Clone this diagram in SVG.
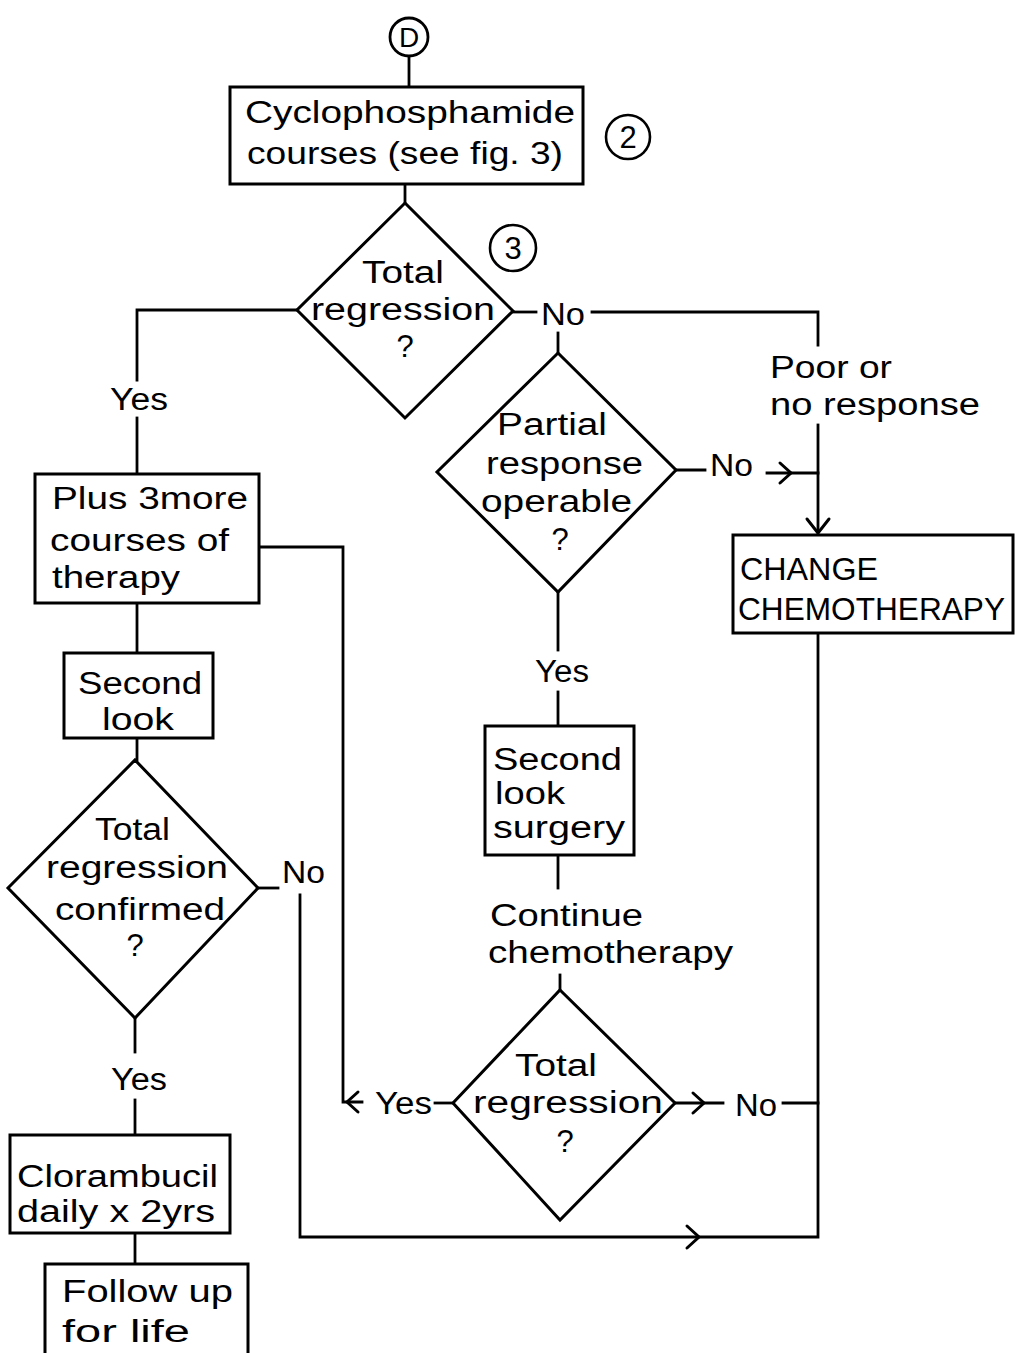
<svg xmlns="http://www.w3.org/2000/svg" width="1021" height="1353" viewBox="0 0 1021 1353">
<style>
.box{fill:#fff;stroke:#000;stroke-width:3}
.ln{fill:none;stroke:#000;stroke-width:2.8;stroke-linecap:square}
.ar{fill:none;stroke:#000;stroke-width:3;stroke-linecap:round;stroke-linejoin:miter}
text{font-family:"Liberation Sans",Arial,sans-serif;font-size:31px;fill:#000}
.m{text-anchor:middle}
</style>
<rect width="1021" height="1353" fill="#fff"/>
<g id="connectors">
<path class="ln" d="M409 56V87"/>
<path class="ln" d="M405 184V203"/>
<path class="ln" d="M513 312H536"/>
<path class="ln" d="M592 312H818V345"/>
<path class="ln" d="M818 425V532"/>
<path class="ar" d="M807 519L818 533L829 519"/>
<path class="ln" d="M558 333V353"/>
<path class="ln" d="M297 310H137V380"/>
<path class="ln" d="M137 418V474"/>
<path class="ln" d="M676 470H705"/>
<path class="ln" d="M767 473H818"/>
<path class="ar" d="M780 463L791 473L780 483"/>
<path class="ln" d="M558 592V650"/>
<path class="ln" d="M558 692V726"/>
<path class="ln" d="M558 855V888"/>
<path class="ln" d="M560 975V990"/>
<path class="ln" d="M137 603V653"/>
<path class="ln" d="M137 738V760"/>
<path class="ln" d="M259 547H343V1102H362"/>
<path class="ar" d="M358 1092L347 1102L358 1112"/>
<path class="ln" d="M435 1103H453"/>
<path class="ln" d="M675 1103H723"/>
<path class="ar" d="M693 1093L704 1103L693 1113"/>
<path class="ln" d="M783 1103H818"/>
<path class="ln" d="M818 633V1237H300V895"/>
<path class="ar" d="M687 1226L699 1237L687 1248"/>
<path class="ln" d="M258 888H278"/>
<path class="ln" d="M135 1018V1052"/>
<path class="ln" d="M135 1100V1135"/>
<path class="ln" d="M135 1233V1264"/>
</g>
<g id="nodeD"><circle cx="409" cy="37" r="19" fill="#fff" stroke="#000" stroke-width="2.8"/><text class="m" x="409" y="47" style="font-size:28px">D</text></g>
<g id="cyclo"><rect class="box" x="230" y="87" width="353" height="97"/>
<text x="245" y="123" textLength="330" lengthAdjust="spacingAndGlyphs">Cyclophosphamide</text>
<text x="247" y="164" textLength="316" lengthAdjust="spacingAndGlyphs">courses (see fig. 3)</text></g>
<g id="mark2"><circle cx="628" cy="137" r="22" fill="none" stroke="#000" stroke-width="2.6"/><text class="m" x="628" y="148">2</text></g>
<g id="mark3"><circle cx="513" cy="248" r="23" fill="none" stroke="#000" stroke-width="2.6"/><text class="m" x="513" y="259">3</text></g>
<g id="dec1"><polygon class="box" points="405,203 513,311 405,418 297,310"/>
<text x="362" y="283" textLength="82" lengthAdjust="spacingAndGlyphs">Total</text>
<text x="311" y="320" textLength="184" lengthAdjust="spacingAndGlyphs">regression</text>
<text class="m" x="405" y="357">?</text></g>
<g id="lbl-no1"><text x="541" y="325" textLength="44" lengthAdjust="spacingAndGlyphs">No</text></g>
<g id="lbl-yes1"><text x="110" y="410" textLength="58" lengthAdjust="spacingAndGlyphs">Yes</text></g>
<g id="lbl-poor"><text x="770" y="378" textLength="122" lengthAdjust="spacingAndGlyphs">Poor or</text>
<text x="770" y="415" textLength="210" lengthAdjust="spacingAndGlyphs">no response</text></g>
<g id="dec2"><polygon class="box" points="558,353 676,470 558,592 437,472"/>
<text x="497" y="435" textLength="110" lengthAdjust="spacingAndGlyphs">Partial</text>
<text x="486" y="474" textLength="157" lengthAdjust="spacingAndGlyphs">response</text>
<text x="481" y="512" textLength="151" lengthAdjust="spacingAndGlyphs">operable</text>
<text class="m" x="560" y="550">?</text></g>
<g id="lbl-no2"><text x="710" y="476" textLength="43" lengthAdjust="spacingAndGlyphs">No</text></g>
<g id="change"><rect class="box" x="733" y="535" width="280" height="98"/>
<text x="740" y="580" textLength="138" lengthAdjust="spacingAndGlyphs">CHANGE</text>
<text x="738" y="620" textLength="267" lengthAdjust="spacingAndGlyphs">CHEMOTHERAPY</text></g>
<g id="plus3"><rect class="box" x="35" y="474" width="224" height="129"/>
<text x="52" y="509" textLength="196" lengthAdjust="spacingAndGlyphs">Plus 3more</text>
<text x="50" y="551" textLength="179" lengthAdjust="spacingAndGlyphs">courses of</text>
<text x="52" y="588" textLength="128" lengthAdjust="spacingAndGlyphs">therapy</text></g>
<g id="second1"><rect class="box" x="64" y="653" width="149" height="85"/>
<text x="78" y="694" textLength="124" lengthAdjust="spacingAndGlyphs">Second</text>
<text x="102" y="730" textLength="72" lengthAdjust="spacingAndGlyphs">look</text></g>
<g id="lbl-yes2"><text x="535" y="682" textLength="54" lengthAdjust="spacingAndGlyphs">Yes</text></g>
<g id="second2"><rect class="box" x="485" y="726" width="149" height="129"/>
<text x="493" y="770" textLength="129" lengthAdjust="spacingAndGlyphs">Second</text>
<text x="495" y="804" textLength="70" lengthAdjust="spacingAndGlyphs">look</text>
<text x="493" y="838" textLength="132" lengthAdjust="spacingAndGlyphs">surgery</text></g>
<g id="lbl-continue"><text x="490" y="926" textLength="153" lengthAdjust="spacingAndGlyphs">Continue</text>
<text x="488" y="963" textLength="245" lengthAdjust="spacingAndGlyphs">chemotherapy</text></g>
<g id="dec3"><polygon class="box" points="135,760 258,888 135,1018 8,888"/>
<text x="95" y="840" textLength="75" lengthAdjust="spacingAndGlyphs">Total</text>
<text x="46" y="878" textLength="182" lengthAdjust="spacingAndGlyphs">regression</text>
<text x="55" y="920" textLength="170" lengthAdjust="spacingAndGlyphs">confirmed</text>
<text class="m" x="135" y="956">?</text></g>
<g id="lbl-no3"><text x="282" y="883" textLength="43" lengthAdjust="spacingAndGlyphs">No</text></g>
<g id="lbl-yes3"><text x="111" y="1090" textLength="56" lengthAdjust="spacingAndGlyphs">Yes</text></g>
<g id="cloram"><rect class="box" x="10" y="1135" width="220" height="98"/>
<text x="17" y="1187" textLength="201" lengthAdjust="spacingAndGlyphs">Clorambucil</text>
<text x="17" y="1222" textLength="198" lengthAdjust="spacingAndGlyphs">daily x 2yrs</text></g>
<g id="follow"><rect class="box" x="45" y="1264" width="203" height="100"/>
<text x="62" y="1302" textLength="171" lengthAdjust="spacingAndGlyphs">Follow up</text>
<text x="62" y="1342" textLength="128" lengthAdjust="spacingAndGlyphs">for life</text></g>
<g id="dec4"><polygon class="box" points="560,990 675,1103 560,1220 453,1103"/>
<text x="515" y="1076" textLength="82" lengthAdjust="spacingAndGlyphs">Total</text>
<text x="473" y="1113" textLength="190" lengthAdjust="spacingAndGlyphs">regression</text>
<text class="m" x="565" y="1152">?</text></g>
<g id="lbl-yes4"><text x="375" y="1114" textLength="57" lengthAdjust="spacingAndGlyphs">Yes</text></g>
<g id="lbl-no4"><text x="735" y="1116" textLength="42" lengthAdjust="spacingAndGlyphs">No</text></g>
</svg>
